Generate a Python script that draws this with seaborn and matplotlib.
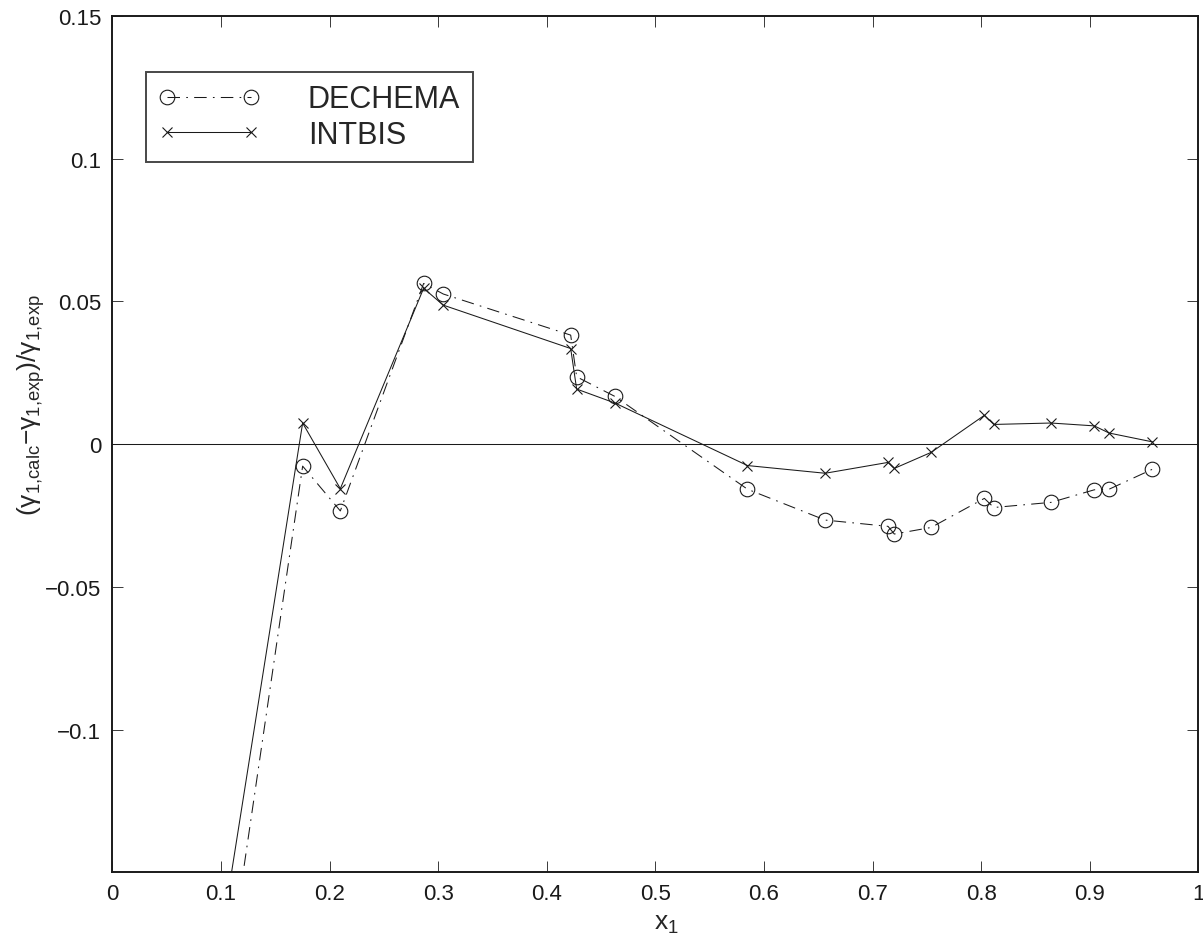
import numpy as np
import pandas as pd
import seaborn as sns
import matplotlib
matplotlib.use("Agg")
import matplotlib.pyplot as plt

# --- data ---
x1 = [0.090, 0.1752, 0.2099, 0.2866, 0.3047, 0.4220, 0.4275, 0.4628, 0.5848,
      0.6563, 0.7142, 0.7200, 0.7538, 0.8029, 0.8116, 0.8643, 0.9041, 0.9177,
      0.9576]
dechema = [-0.2292, -0.0077, -0.0234, 0.0563, 0.0526, 0.0382, 0.0236, 0.0167,
           -0.0158, -0.0266, -0.0288, -0.0315, -0.0292, -0.0190, -0.0222,
           -0.0204, -0.0160, -0.0158, -0.0088]
intbis = [-0.1975, 0.0074, -0.0156, 0.0546, 0.0487, 0.0335, 0.0193, 0.0144,
          -0.0075, -0.0102, -0.0064, -0.0085, -0.0029, 0.0101, 0.0069, 0.0074,
          0.0064, 0.0039, 0.0008]

xticks = [0, 0.1, 0.2, 0.3, 0.4, 0.5, 0.6, 0.7, 0.8, 0.9, 1.0]
xtick_labels = ["0", "0.1", "0.2", "0.3", "0.4", "0.5", "0.6", "0.7", "0.8", "0.9", "1"]
yticks = [-0.1, -0.05, 0, 0.05, 0.1, 0.15]
ytick_labels = ["\u22120.1", "\u22120.05", "0", "0.05", "0.1", "0.15"]

# --- style ---
sns.set_theme(style="ticks")
plt.rcParams['font.family'] = ['Liberation Sans', 'DejaVu Sans']
plt.rcParams['mathtext.fontset'] = 'custom'
plt.rcParams['mathtext.rm'] = 'Liberation Sans'
plt.rcParams['mathtext.default'] = 'regular'
plt.rcParams['lines.scale_dashes'] = False

df = pd.DataFrame({"x1": x1, "DECHEMA": dechema, "INTBIS": intbis})

fig = plt.figure(figsize=(12.03, 9.45), dpi=100)
ax = fig.add_axes([0.0934, 0.0762, 0.9028, 0.9058])

sns.lineplot(data=df, x="x1", y="DECHEMA", ax=ax, sort=False, estimator=None,
             color="k", linewidth=0.75, linestyle=(0, (9, 4.5, 1.2, 4.5)),
             marker="o", markersize=10.5, markerfacecolor="none",
             markeredgecolor="k", markeredgewidth=0.8, label="DECHEMA")
sns.lineplot(data=df, x="x1", y="INTBIS", ax=ax, sort=False, estimator=None,
             color="k", linewidth=0.75, linestyle="-",
             marker="x", markersize=7.5, markeredgecolor="k",
             markeredgewidth=0.8, label="INTBIS")
ax.axhline(0, color="k", linewidth=0.75, zorder=1)

ax.set_xlim(0, 1)
ax.set_ylim(-0.1499, 0.15)
ax.set_xticks(xticks, labels=xtick_labels)
ax.set_yticks(yticks, labels=ytick_labels)
ax.tick_params(direction="in", top=True, right=True, length=7.8, width=0.6,
               labelsize=16, colors="k")
ax.tick_params(axis="x", pad=8)
ax.tick_params(axis="y", pad=8)
for s in ax.spines.values():
    s.set_visible(True)
    s.set_linewidth(1.4)
    s.set_color("k")

ax.set_xlabel("x$_1$", fontsize=19)
ax.set_ylabel("(\u03b3$_{1{,}calc}$\u2212\u03b3$_{1{,}exp}$)/\u03b3$_{1{,}exp}$", fontsize=19)
ax.xaxis.set_label_coords(0.51, -0.045)
ax.yaxis.set_label_coords(-0.060, 0.547)

leg = ax.legend(loc="upper left", bbox_to_anchor=(0.031, 0.9346),
                borderaxespad=0, fancybox=False, shadow=False, frameon=True,
                fontsize=22, handlelength=3.33, handletextpad=1.57,
                borderpad=0.4, labelspacing=0.18, numpoints=2)
leg.get_frame().set_edgecolor("k")
leg.get_frame().set_linewidth(1.4)

fig.savefig("out.png", dpi=100)
